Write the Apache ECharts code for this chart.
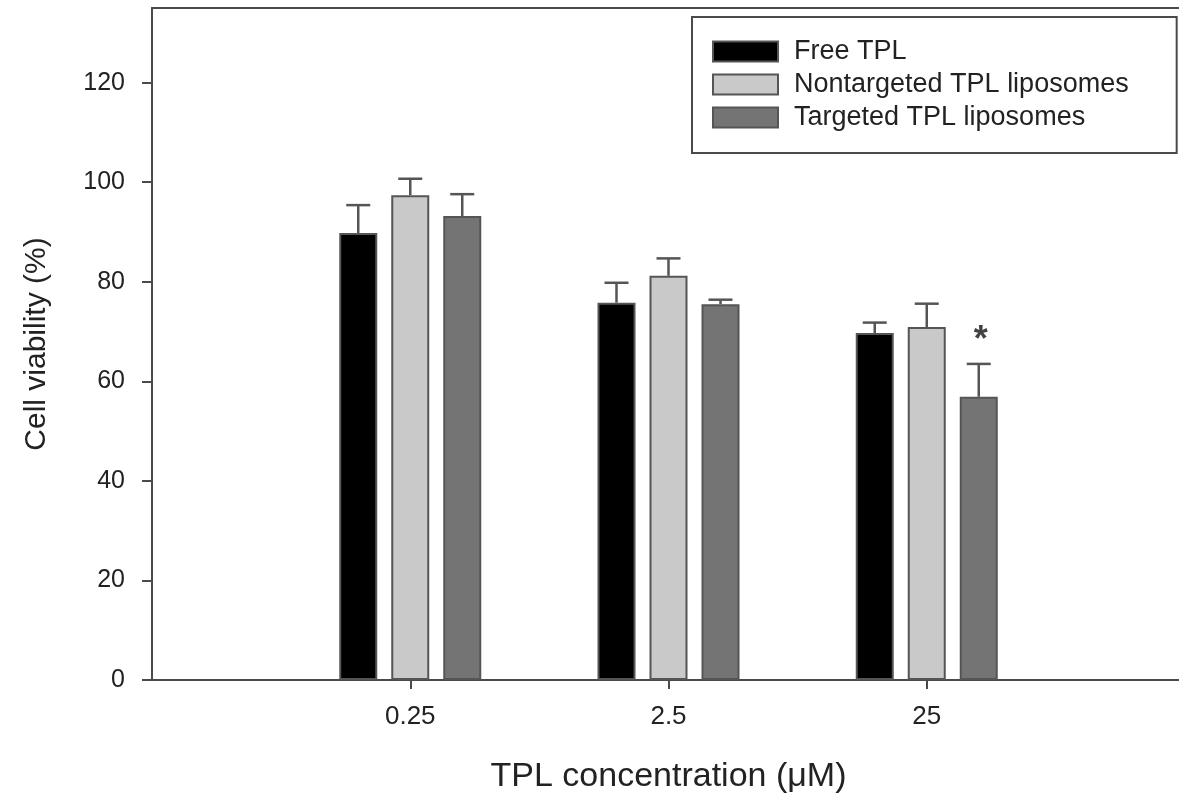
<!DOCTYPE html>
<html>
<head>
	<meta charset="utf-8">
	<title>Cell viability</title>
	<style>
		html, body { margin: 0; padding: 0; background: #fff; }
		#main { width: 1179px; height: 795px; }
	</style>
</head>
<body>
<div id="main"></div>
<script src="https://cdn.jsdelivr.net/npm/echarts@6/dist/echarts.min.js"></script>
<script>
	// 数据
	var concentrations = ['', '0.25', '2.5', '25', ''];
	var seriesNames = ['Free TPL', 'Nontargeted TPL liposomes', 'Targeted TPL liposomes'];
	var freeTPL = [null, 89.8, 75.8, 69.7, null];
	var nontargeted = [null, 97.4, 81.2, 70.9, null];
	var targeted = [null, 93.2, 75.5, 56.9, null];
	var freeErr = [0, 5.6, 4.0, 2.1, 0];
	var nontargetedErr = [0, 3.3, 3.5, 4.7, 0];
	var targetedErr = [0, 4.4, 0.9, 6.6, 0];
	var yTicks = [0, 20, 40, 60, 80, 100, 120];
	var starMark = [[3, 69]];   // significance mark over targeted bar at 25 uM

	var FONT = '"Liberation Sans", Arial, Helvetica, sans-serif';
	var AXIS_COLOR = '#4a4a4a';
	var TEXT_COLOR = '#222';
	var BAR_W = 38, BAR_GAP = 14;
	var colors = ['#000000', '#c9c9c9', '#747474'];
	var values = [freeTPL, nontargeted, targeted];
	var errs = [freeErr, nontargetedErr, targetedErr];

	var chart = echarts.init(document.getElementById('main'));

	function errData(i) {
		var out = [];
		for (var k = 0; k < concentrations.length; k++) {
			if (values[i][k] != null) out.push([k, values[i][k], errs[i][k]]);
		}
		return out;
	}

	function errorBar(i) {
		var offset = (i - 1) * (BAR_W + BAR_GAP);
		return {
			type: 'custom',
			name: seriesNames[i] + ' err',
			z: 3,
			silent: true,
			data: errData(i),
			encode: { x: 0, y: 1 },
			renderItem: function (params, api) {
				var base = api.coord([api.value(0), api.value(1)]);
				var top = api.coord([api.value(0), api.value(1) + api.value(2)]);
				var x = base[0] + offset;
				var st = { stroke: '#555', lineWidth: 2.5 };
				return {
					type: 'group',
					children: [
						{ type: 'line', shape: { x1: x, y1: base[1], x2: x, y2: top[1] }, style: st },
						{ type: 'line', shape: { x1: x - 12, y1: top[1], x2: x + 12, y2: top[1] }, style: st }
					]
				};
			}
		};
	}

	var barSeries = seriesNames.map(function (name, i) {
		return {
			name: name,
			type: 'bar',
			barWidth: BAR_W,
			barGap: (BAR_GAP / BAR_W * 100) + '%',
			data: values[i],
			itemStyle: { color: colors[i], borderColor: '#555', borderWidth: 2 }
		};
	});

	var option = {
		animation: false,
		backgroundColor: '#fff',
		grid: { left: 152, right: -6, top: 8, bottom: 115, outerBoundsMode: 'none', containLabel: false },
		legend: {
			orient: 'vertical',
			left: 692,
			top: 17,
			data: seriesNames,
			icon: 'rect',
			itemWidth: 65,
			itemHeight: 20,
			itemGap: 6,
			padding: [21, 48, 22, 20],
			borderColor: AXIS_COLOR,
			borderWidth: 2,
			textStyle: { fontFamily: FONT, fontSize: 27, color: TEXT_COLOR, padding: [0, 0, 0, 11] }
		},
		xAxis: [{
			type: 'category',
			data: concentrations,
			boundaryGap: false,
			axisLine: { lineStyle: { color: AXIS_COLOR, width: 2 } },
			axisTick: {
				length: 9,
				interval: function (idx) { return idx > 0 && idx < concentrations.length - 1; },
				lineStyle: { color: AXIS_COLOR, width: 2 }
			},
			axisLabel: { fontFamily: FONT, fontSize: 26, color: TEXT_COLOR, margin: 24, interval: 0 },
			name: 'TPL concentration (\u03bcM)',
			nameLocation: 'middle',
			nameGap: 80,
			nameTextStyle: { fontFamily: FONT, fontSize: 34, color: TEXT_COLOR }
		}, {
			type: 'category',
			position: 'top',
			data: concentrations,
			axisLine: { lineStyle: { color: AXIS_COLOR, width: 2 } },
			axisTick: { show: false },
			axisLabel: { show: false }
		}],
		yAxis: {
			type: 'value',
			min: 0,
			max: 135,
			interval: 20,
			splitLine: { show: false },
			axisLine: { show: true, lineStyle: { color: AXIS_COLOR, width: 2 } },
			axisTick: { show: true, length: 10, customValues: yTicks, lineStyle: { color: AXIS_COLOR, width: 2 } },
			axisLabel: { fontFamily: FONT, fontSize: 25, color: TEXT_COLOR, margin: 27, customValues: yTicks },
			name: 'Cell viability (%)',
			nameLocation: 'middle',
			nameGap: 100,
			nameTextStyle: { fontFamily: FONT, fontSize: 30, color: TEXT_COLOR }
		},
		series: barSeries.concat([errorBar(0), errorBar(1), errorBar(2), {
			type: 'scatter',
			name: 'sig',
			silent: true,
			symbolSize: 0,
			data: starMark,
			label: {
				show: true,
				formatter: '*',
				position: 'inside',
				offset: [(BAR_W + BAR_GAP) + 2, 5],
				fontFamily: FONT,
				fontSize: 36,
				fontWeight: 'bold',
				color: '#111'
			}
		}])
	};
	chart.setOption(option);
</script>
</body>
</html>
